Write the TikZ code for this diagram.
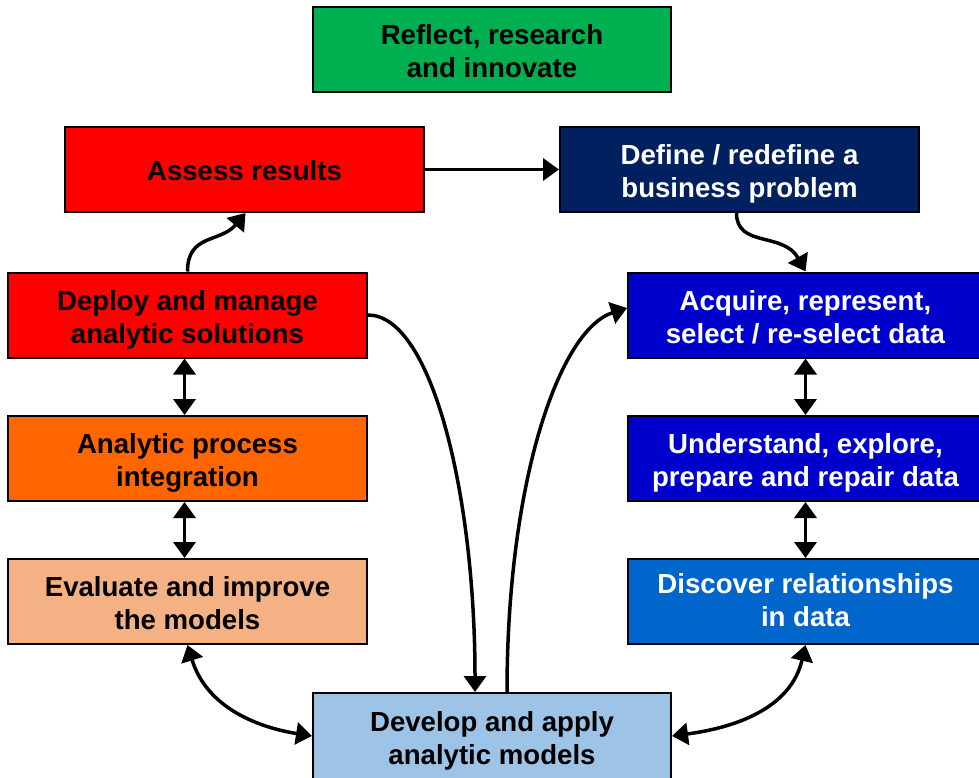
\documentclass[tikz,border=0pt]{standalone}
\usepackage{fontspec}
\setmainfont{Liberation Sans}
\usetikzlibrary{arrows.meta}
\definecolor{cgreen}{HTML}{00B050}
\definecolor{cred}{HTML}{FF0000}
\definecolor{cnavy}{HTML}{002060}
\definecolor{corange}{HTML}{FF6600}
\definecolor{cpeach}{HTML}{F4B183}
\definecolor{clblue}{HTML}{9DC3E6}
\definecolor{cblue}{HTML}{0000CC}
\definecolor{cmblue}{HTML}{0066CC}
\newcommand\topstrut{\rule{0pt}{30pt}}
\newcommand\botstrut{\rule[-7pt]{0pt}{7pt}}
\tikzset{
  box/.style={draw=black, line width=2pt, inner sep=0pt, align=center,
    font=\fontsize{27.6}{33}\selectfont\bfseries},
  lbox/.style={box, minimum width=359pt, minimum height=85pt},
  rbox/.style={box, minimum width=355pt, minimum height=85pt, text=white},
  conn/.style={line width=3.5pt, -{Triangle[length=16pt,width=22pt]}},
  dconn/.style={line width=3.5pt, {Triangle[length=16pt,width=22pt]}-{Triangle[length=16pt,width=22pt]}}
}
\begin{document}
\begin{tikzpicture}[x=1pt,y=-1pt]
\useasboundingbox (0,0) rectangle (979,778);
\node[lbox, minimum width=358pt, fill=cgreen] (reflect) at (492,49.5) {\topstrut Reflect, research\\and innovate\botstrut};
\node[lbox, fill=cred] (assess) at (244.5,169.5) {\topstrut Assess results\botstrut};
\node[lbox, fill=cnavy, text=white] (define) at (739.5,169.5) {\topstrut Define / redefine a\\business problem\botstrut};
\node[lbox, fill=cred] (deploy) at (187.5,315) {\topstrut Deploy and manage\\analytic solutions\botstrut};
\node[lbox, fill=corange] (integ) at (187.5,458.5) {\topstrut Analytic process\\integration\botstrut};
\node[lbox, fill=cpeach] (evaluate) at (187.5,601.5) {\topstrut Evaluate and improve\\the models\botstrut};
\node[lbox, minimum width=358pt, minimum height=86pt, fill=clblue] (develop) at (492,736) {\topstrut Develop and apply\\analytic models\botstrut};
\node[rbox, fill=cblue] (acquire) at (805.5,315) {\topstrut Acquire, represent,\\select / re-select data\botstrut};
\node[rbox, fill=cblue] (understand) at (805.5,458.5) {\topstrut Understand, explore,\\prepare and repair data\botstrut};
\node[rbox, fill=cmblue] (discover) at (805.5,601.5) {\topstrut Discover relationships\\in data\rule[-13pt]{0pt}{13pt}};

\draw[conn] (assess.east) -- (define.west);
\draw[conn] (deploy.north) .. controls +(0,-38) and +(-25,30) .. ([xshift=1pt]assess.south);
\draw[conn] ([xshift=-3pt]define.south) .. controls +(0,35) and +(-22,-40) .. (acquire.north);
\draw[conn] (deploy.east) .. controls +(63,0) and +(0,-200) .. ([xshift=-17pt]develop.north);
\draw[conn] ([xshift=15pt]develop.north) .. controls +(0,-210) and +(-68,22) .. ([yshift=7pt]acquire.west);
\draw[dconn] ([xshift=-3pt]deploy.south) -- ([xshift=-3pt]integ.north);
\draw[dconn] ([xshift=-3pt]integ.south) -- ([xshift=-3pt]evaluate.north);
\draw[dconn] (acquire.south) -- (understand.north);
\draw[dconn] (understand.south) -- (discover.north);
\draw[dconn] (evaluate.south) .. controls +(20,65) and +(-50,-8) .. (develop.west);
\draw[dconn] (discover.south) .. controls +(-15,65) and +(60,-8) .. (develop.east);
\end{tikzpicture}
\end{document}
